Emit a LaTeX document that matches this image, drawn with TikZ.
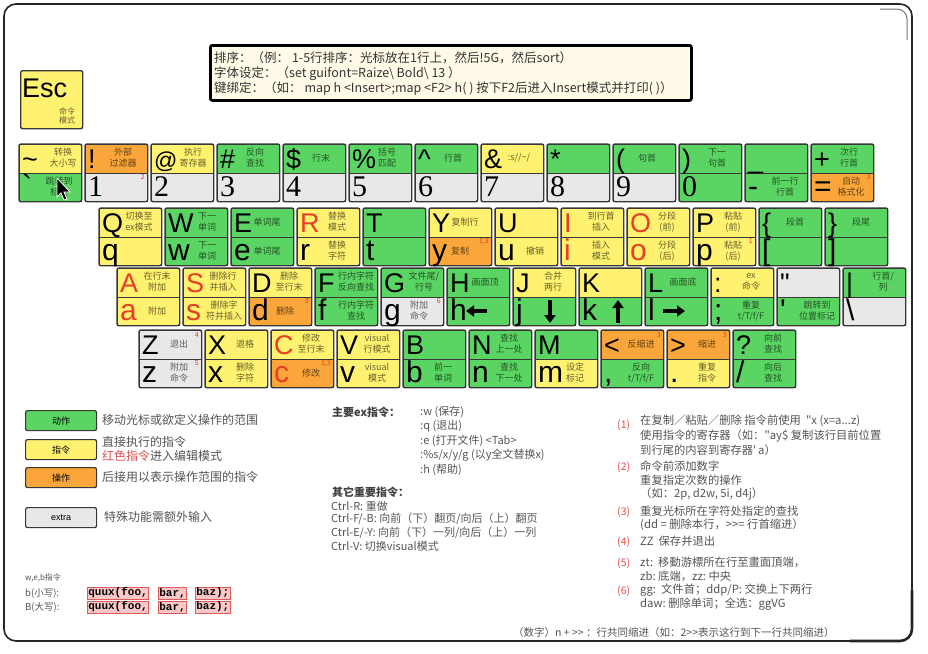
\documentclass[tikz,border=0pt]{standalone}
\usepackage{fontspec}
\setmainfont{Noto Sans CJK SC}[Ligatures=TeXOff]
\newfontfamily\keyfont{Liberation Sans}
\newfontfamily\numfont{Liberation Serif}
\newfontfamily\codefont{Liberation Mono}
\usetikzlibrary{arrows.meta}
\definecolor{kgreen}{RGB}{90,212,98}
\definecolor{kyellow}{RGB}{255,242,112}
\definecolor{korange}{RGB}{250,166,58}
\definecolor{kgrey}{RGB}{232,232,232}
\definecolor{kborder}{RGB}{55,55,55}
\definecolor{kred}{RGB}{232,62,40}
\definecolor{notered}{RGB}{225,80,80}
\definecolor{notegrey}{RGB}{85,85,85}
\definecolor{hdrfill}{RGB}{255,251,232}
\definecolor{codefill}{RGB}{250,200,200}
\definecolor{codeline}{RGB}{225,90,90}
\tikzset{
  khalf/.style={rectangle,draw=kborder,line width=0.7pt,minimum width=62pt,minimum height=28.5pt,inner sep=0pt},
  kframe/.style={draw=kborder,line width=1.4pt,rounded corners=2pt},
  kcap/.style={inner sep=0pt,font=\keyfont\fontsize{27}{27}\selectfont},
  klow/.style={inner sep=0pt,font=\keyfont\fontsize{30}{30}\selectfont},
  klab/.style={inner sep=0pt,align=center,text=black,text opacity=0.6,font=\fontsize{9}{11}\selectfont},
  ksup/.style={inner sep=0pt,text=kred,font=\fontsize{7}{7}\selectfont},
  karrow/.style={line width=3.5pt,-{Triangle[length=8pt,width=11pt]}},
  legbox/.style={draw=kborder,line width=1.2pt,rounded corners=2pt,minimum width=71pt,minimum height=20pt,inner sep=0pt,font=\fontsize{9}{9}\selectfont},
  legtxt/.style={anchor=west,inner sep=0pt,text=notegrey,font=\fontsize{12}{14.5}\selectfont,align=left},
  note/.style={anchor=west,inner sep=0pt,text=notegrey,font=\fontsize{11.3}{12}\selectfont},
  mid/.style={anchor=west,inner sep=0pt,text=notegrey,font=\fontsize{11}{12}\selectfont},
  nnum/.style={anchor=west,inner sep=0pt,text=notered,font=\fontsize{10.5}{12}\selectfont},
  hdr/.style={anchor=west,inner sep=0pt,text=black!80,font=\fontsize{12.5}{13}\selectfont},
  codebox/.style={draw=codeline,fill=codefill,line width=0.6pt,inner sep=1pt,anchor=west,font=\codefont\bfseries\fontsize{11}{11}\selectfont}
}
\newcommand\tlx{40}
\newcommand\blx{40}
% #1 name, #2 x, #3 y, #4 top colour, #5 top char, #6 top label, #7 bottom colour, #8 bottom char, #9 bottom label
\newcommand\kk[9]{%
  \node[khalf,fill=#4,anchor=north west] (#1t) at (#2,#3) {};
  \node[khalf,fill=#7,anchor=north west] (#1b) at ({#2},{#3+28.5}) {};
  \draw[kframe] (#1t.north west) rectangle (#1b.south east);
  \node[kcap,anchor=base west] (#1tc) at ({#2+3},{#3+24}) {#5};
  \node[klab] (#1tl) at ({#2+\tlx},{#3+14}) {#6};
  \node[klow,anchor=base west] (#1bc) at ({#2+3},{#3+52.5}) {#8};
  \node[klab] (#1bl) at ({#2+\blx},{#3+43}) {#9};
}

\begin{document}
\begin{tikzpicture}[x=1pt,y=-1pt]
\useasboundingbox (0,0) rectangle (928,653);
\fill[white] (0,0) rectangle (928,653);
% page frame
\draw[black!85,line width=1.6pt,rounded corners=12pt] (4,4) rectangle (912,641);
\draw[black!85,line width=2.6pt,rounded corners=12pt] (850,641) -- (912,641) -- (912,590);
\draw[black!55,line width=1pt,rounded corners=10pt] (880,9) -- (907,9) -- (907,40);

% header box
\node[draw=black,line width=2.8pt,fill=hdrfill,rounded corners=2pt,anchor=north west,minimum width=481pt,minimum height=55pt,inner sep=0pt] (hdrbox) at (209,44) {};
\node[hdr] (h1) at (214,58) {排序：（例： 1-5行排序：光标放在1行上，然后!5G，然后sort）};
\node[hdr] (h2) at (214,74) {字体设定：（set guifont=Raize\textbackslash\ Bold\textbackslash\ 13 ）};
\node[hdr] (h3) at (214,89) {键绑定：（如：\ map h <Insert>;map <F2> h( )\ 按下F2后进入Insert模式并打印( )）};

% Esc
\node[draw=kborder,line width=1.4pt,fill=kyellow,rounded corners=2pt,anchor=north west,minimum width=62pt,minimum height=58pt,inner sep=0pt] (esc) at (20,70) {};
\node[kcap,anchor=base west,font=\keyfont\fontsize{27}{27}\selectfont] (escl) at (22,97) {Esc};
\node[klab,font=\fontsize{8}{9.5}\selectfont] (escm) at (67,116) {命令\\模式};

% number row
\renewcommand\tlx{44}
\kk{kT}{19}{144}{kyellow}{\textasciitilde}{转换\\大小写}{kgreen}{\textasciigrave}{跳转到\\标注}
\renewcommand\tlx{38}
\kk{k1}{85}{144}{korange}{!}{外部\\过滤器}{kgrey}{\numfont 1}{}
\renewcommand\tlx{42}
\kk{k2}{151}{144}{kyellow}{\fontsize{23}{23}\selectfont @}{执行\\寄存器}{kgrey}{\numfont 2}{}
\renewcommand\tlx{38}
\kk{k3}{217}{144}{kgreen}{\#}{反向\\查找}{kgrey}{\numfont 3}{}
\kk{k4}{283}{144}{kgreen}{\$}{行末}{kgrey}{\numfont 4}{}
\kk{k5}{349}{144}{kgreen}{\%}{括号\\匹配}{kgrey}{\numfont 5}{}
\kk{k6}{415}{144}{kgreen}{\textasciicircum}{行首}{kgrey}{\numfont 6}{}
\kk{k7}{481}{144}{kyellow}{\&}{:s//\textasciitilde/}{kgrey}{\numfont 7}{}
\kk{k8}{547}{144}{kgreen}{*}{}{kgrey}{\numfont 8}{}
\renewcommand\tlx{34}
\kk{k9}{613}{144}{kgreen}{(}{句首}{kgrey}{\numfont 9}{}
\renewcommand\tlx{38}
\kk{k0}{679}{144}{kgreen}{)}{下一\\句首}{kgreen}{\numfont 0}{}
\kk{kmin}{745}{144}{kgreen}{\_}{}{kgreen}{-}{前一行\\行首}
\kk{kplus}{811}{144}{kgreen}{+}{次行\\行首}{korange}{=}{自动\\格式化}
\renewcommand\tlx{40}
\node[ksup,anchor=north east] (s2one) at ({85+60},{144+30.5}) {2};
\node[ksup,anchor=north east] (s3eq) at ({811+60},{144+30.5}) {3};

% qwerty row
\kk{kq}{99}{208}{kyellow}{Q}{切换至\\ex模式}{kyellow}{q}{}
\renewcommand\tlx{42}\renewcommand\blx{42}
\kk{kw}{165}{208}{kgreen}{W}{下一\\单词}{kgreen}{w}{下一\\单词}
\renewcommand\tlx{36}\renewcommand\blx{36}
\kk{ke}{231}{208}{kgreen}{E}{单词尾}{kgreen}{e}{单词尾}
\renewcommand\tlx{40}\renewcommand\blx{40}
\kk{kr}{297}{208}{kyellow}{\textcolor{kred}{R}}{替换\\模式}{kyellow}{r}{替换\\字符}
\kk{kt}{363}{208}{kgreen}{T}{}{kgreen}{t}{}
\renewcommand\tlx{36}\renewcommand\blx{31}
\kk{ky}{429}{208}{kyellow}{Y}{复制行}{korange}{y}{复制}
\renewcommand\tlx{40}\renewcommand\blx{40}
\node[ksup,anchor=north east] (s13y) at ({429+60},{208+30.5}) {1,3};
\kk{ku}{495}{208}{kyellow}{U}{}{kyellow}{u}{撤销}
\kk{ki}{561}{208}{kyellow}{\textcolor{kred}{I}}{到行首\\插入}{kyellow}{\textcolor{kred}{i}}{插入\\模式}
\kk{ko}{627}{208}{kyellow}{\textcolor{kred}{O}}{分段\\(前)}{kyellow}{\textcolor{kred}{o}}{分段\\(后)}
\kk{kp}{693}{208}{kyellow}{P}{粘贴\\(前)}{kyellow}{p}{粘贴\\(后)}
\node[ksup,anchor=north east] (s1p) at ({693+60},{208+30.5}) {1};
\renewcommand\tlx{36}
\kk{klb}{759}{208}{kgreen}{\{}{段首}{kgreen}{[}{}
\kk{krb}{825}{208}{kgreen}{\}}{段尾}{kgreen}{]}{}
\renewcommand\tlx{40}

% asdf row
\kk{ka}{117}{268}{kyellow}{\textcolor{kred}{A}}{在行末\\附加}{kyellow}{\textcolor{kred}{a}}{附加}
\renewcommand\blx{41}
\kk{ks}{183}{268}{kyellow}{\textcolor{kred}{S}}{删除行\\并插入}{kyellow}{\textcolor{kred}{s}}{删除字\\符并插入}
\renewcommand\blx{36}
\kk{kd}{249}{268}{kyellow}{D}{删除\\至行末}{korange}{d}{删除}
\renewcommand\blx{40}
\node[ksup,anchor=north east] (s3d) at ({249+60},{268+30.5}) {3};
\renewcommand\tlx{41}\renewcommand\blx{41}
\kk{kf}{315}{268}{kgreen}{F}{行内字符\\反向查找}{kgreen}{f}{行内字符\\查找}
\renewcommand\tlx{43}\renewcommand\blx{38}
\kk{kg}{381}{268}{kgreen}{G}{文件尾/\\行号}{kgrey}{g}{附加\\命令}
\renewcommand\blx{40}
\node[ksup,anchor=north east] (s6g) at ({381+60},{268+30.5}) {6};
\renewcommand\tlx{38}
\kk{kh}{447}{268}{kgreen}{H}{画面顶}{kgreen}{h}{}
\renewcommand\tlx{40}
\kk{kj}{513}{268}{kyellow}{J}{合并\\两行}{kgreen}{j}{}
\kk{kk}{579}{268}{kyellow}{K}{}{kgreen}{k}{}
\renewcommand\tlx{38}
\kk{kl}{645}{268}{kgreen}{L}{画面底}{kgreen}{l}{}
\renewcommand\tlx{40}
\kk{kcolon}{711}{268}{kyellow}{:}{ex\\命令}{kgreen}{;}{重复\\t/T/f/F}
\kk{kquote}{777}{268}{kgrey}{"}{}{kgreen}{\textquotesingle}{跳转到\\位置标记}
\kk{kbar}{843}{268}{kgreen}{|}{行首/\\列}{kgrey}{\textbackslash}{}
\draw[karrow] ({447+40},{268+43}) -- ({447+19},{268+43});
\draw[karrow] ({513+37},{268+32}) -- ({513+37},{268+55});
\draw[karrow] ({579+39},{268+55}) -- ({579+39},{268+32});
\draw[karrow] ({645+18},{268+43}) -- ({645+40},{268+43});

% zxcv row
\kk{kz}{139}{330}{kgrey}{Z}{退出}{kgrey}{z}{附加\\命令}
\node[ksup,anchor=north east] (s4z) at ({139+60},{330+2}) {4};
\node[ksup,anchor=north east] (s5z) at ({139+60},{330+30.5}) {5};
\kk{kx}{205}{330}{kyellow}{X}{退格}{kyellow}{x}{删除\\字符}
\kk{kcc}{271}{330}{kyellow}{\textcolor{kred}{C}}{修改\\至行末}{korange}{\textcolor{kred}{c}}{修改}
\node[ksup,anchor=north east] (s13c) at ({271+60},{330+30.5}) {1,3};
\kk{kv}{337}{330}{kyellow}{V}{visual\\行模式}{kyellow}{v}{visual\\模式}
\kk{kb}{403}{330}{kgreen}{B}{}{kgreen}{b}{前一\\单词}
\kk{kn}{469}{330}{kgreen}{N}{查找\\上一处}{kgreen}{n}{查找\\下一处}
\kk{km}{535}{330}{kgreen}{M}{}{kyellow}{m}{设定\\标记}
\kk{klt}{601}{330}{korange}{<}{反缩进}{kgreen}{,}{反向\\t/T/f/F}
\node[ksup,anchor=north east] (s3lt) at ({601+60},{330+2}) {3};
\kk{kgt}{667}{330}{korange}{>}{缩进}{kyellow}{.}{重复\\指令}
\node[ksup,anchor=north east] (s3gt) at ({667+60},{330+2}) {3};
\kk{kqm}{733}{330}{kgreen}{?}{向前\\查找}{kgreen}{/}{向后\\查找}

% mouse cursor
\filldraw[fill=black,draw=white,line width=0.8pt] (57,178) -- (57,197) -- (61,193) -- (64,200) -- (67,199) -- (64,192) -- (70,192) -- cycle;

% legend
\node[legbox,fill=kgreen,anchor=north west] (lg1) at (25,410) {动作};
\node[legtxt] (lt1) at (102,420) {移动光标或欲定义操作的范围};
\node[legbox,fill=kyellow,anchor=north west] (lg2) at (25,439) {指令};
\node[legtxt] (lt2) at (102,449) {直接执行的指令\\\textcolor{notered}{红色指令}进入编辑模式};
\node[legbox,fill=korange,anchor=north west] (lg3) at (25,467) {操作};
\node[legtxt] (lt3) at (102,477) {后接用以表示操作范围的指令};
\node[legbox,fill=kgrey,anchor=north west] (lg4) at (25,507) {\keyfont extra};
\node[legtxt] (lt4) at (104,517) {特殊功能需额外输入};

% w,e,b
\node[anchor=west,inner sep=0pt,text=notegrey,font=\fontsize{8}{9}\selectfont] (web) at (25,578) {w,e,b指令};
\node[anchor=west,inner sep=0pt,text=notegrey,font=\fontsize{9.5}{10}\selectfont] (bl) at (25,593) {b(小写):};
\node[anchor=west,inner sep=0pt,text=notegrey,font=\fontsize{9.5}{10}\selectfont] (bu) at (25,607) {B(大写):};
\node[codebox] (c1a) at (87,593) {quux(foo,};
\node[codebox] (c1b) at (158,593) {bar,};
\node[codebox] (c1c) at (195,593) {baz);};
\node[codebox] (c2a) at (87,607) {quux(foo,};
\node[codebox] (c2b) at (158,607) {bar,};
\node[codebox] (c2c) at (195,607) {baz);};

% main ex commands
\node[mid,text=black!75] (m0) at (332,412) {\bfseries 主要ex指令：};
\node[mid] (m1) at (420,412) {:w (保存)};
\node[mid] (m2) at (420,426) {:q (退出)};
\node[mid] (m3) at (420,441) {:e (打开文件) <Tab>};
\node[mid] (m4) at (420,455) {:\%s/x/y/g (以y全文替换x)};
\node[mid] (m5) at (420,470) {:h (帮助)};
\node[mid,text=black!75] (o0) at (332,492) {\bfseries 其它重要指令：};
\node[mid] (o1) at (331,506) {Ctrl-R: 重做};
\node[mid] (o2) at (331,519) {Ctrl-F/-B: 向前（下）翻页/向后（上）翻页};
\node[mid] (o3) at (331,533) {Ctrl-E/-Y: 向前（下）一列/向后（上）一列};
\node[mid] (o4) at (331,546) {Ctrl-V: 切换visual模式};

% notes
\node[nnum] (n1) at (617,425) {(1)};
\node[note] (n1a) at (640,421) {在复制／粘贴／删除 指令前使用\ \ "x (x=a...z)};
\node[note] (n1b) at (640,436) {使用指令的寄存器（如："ay\$ 复制该行目前位置};
\node[note] (n1c) at (640,450) {到行尾的内容到寄存器\textquotesingle\,a）};
\node[nnum] (n2) at (617,467) {(2)};
\node[note] (n2a) at (640,466) {命令前添加数字};
\node[note] (n2b) at (640,480) {重复指定次数的操作};
\node[note] (n2c) at (640,494) {（如：2p, d2w, 5i, d4j）};
\node[nnum] (n3) at (617,512) {(3)};
\node[note] (n3a) at (640,511) {重复光标所在字符处指定的查找};
\node[note] (n3b) at (640,525) {(dd = 删除本行，>>= 行首缩进）};
\node[nnum] (n4) at (617,542) {(4)};
\node[note] (n4a) at (640,541) {ZZ\ \ 保存并退出};
\node[nnum] (n5) at (617,563) {(5)};
\node[note] (n5a) at (640,562) {zt:\ \ 移動游標所在行至畫面頂端，};
\node[note] (n5b) at (640,576) {zb:\ 底端，zz:\ 中央};
\node[nnum] (n6) at (617,591) {(6)};
\node[note] (n6a) at (640,590) {gg:\ \ 文件首；ddp/P:\ 交换上下两行};
\node[note] (n6b) at (640,604) {daw:\ 删除单词；全选：ggVG};

% bottom line
\node[note,font=\fontsize{10.5}{12}\selectfont] (bot) at (513,633) {（数字）n + >> ：行共同缩进（如：2>>表示这行到下一行共同缩进）};
\end{tikzpicture}
\end{document}
